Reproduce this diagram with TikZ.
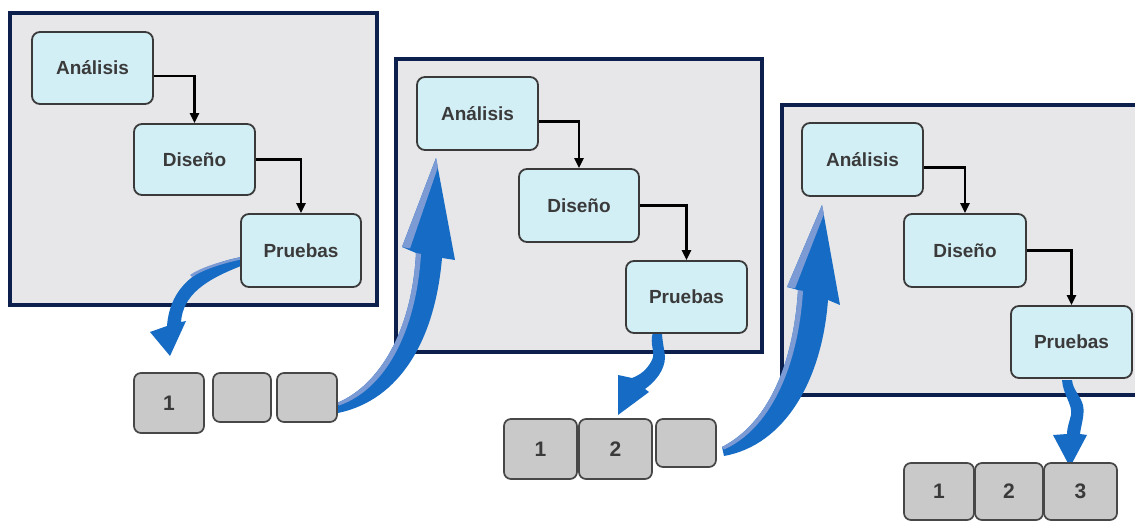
\documentclass[tikz,border=0pt]{standalone}
\usepackage{fontspec}
\setmainfont{Liberation Sans}
\usetikzlibrary{arrows.meta}

\definecolor{framefill}{HTML}{E7E7E9}
\definecolor{frameline}{HTML}{0C1F4D}
\definecolor{boxfill}{HTML}{D3EFF6}
\definecolor{boxline}{HTML}{3A3A3A}
\definecolor{boxtext}{HTML}{3A3A3A}
\definecolor{tilefill}{HTML}{C9C9C9}
\definecolor{tileline}{HTML}{474747}
\definecolor{ablue}{HTML}{166CC4}
\definecolor{ahi}{HTML}{7C9AD4}

\tikzset{
  panel/.style={fill=framefill, draw=frameline, line width=3.6pt},
  phase/.style={draw=boxline, line width=1.8pt, fill=boxfill, rounded corners=8pt,
    inner sep=0pt, text=boxtext, font=\bfseries\fontsize{19}{20}\selectfont},
  tile/.style={draw=tileline, line width=1.7pt, fill=tilefill, rounded corners=7pt,
    inner sep=0pt, text=boxtext, font=\bfseries\fontsize{21}{22}\selectfont},
  conn/.style={line width=2.8pt, black, -{Triangle[length=10pt,width=9pt]}},
}

\begin{document}
\begin{tikzpicture}[x=1pt, y=-1pt]
\useasboundingbox (0,0) rectangle (1135,521);
\fill[white] (0,0) rectangle (1135,521);

% ---- iteration frames ----
\draw[panel] (10,13) rectangle (377,305);
\draw[panel] (396,59) rectangle (762,352);
\fill[framefill] (782,105) rectangle (1135,395);
\draw[frameline, line width=3.6pt] (1136,105) -- (782,105) -- (782,395) -- (1136,395);

% ---- blue feedback arrows ----
% Pruebas -> first increment
\fill[ablue] (241,257) .. controls (200,265) and (170,285) .. (167,326)
  -- (150,332) -- (170,356) -- (186,321) -- (181,322)
  .. controls (183,295) and (205,280) .. (241,266) -- cycle;
\fill[ahi] (241,257) .. controls (218,262) and (200,268) .. (190,275)
  -- (192,277) .. controls (203,270) and (220,264) .. (241,259.5) -- cycle;

% increments -> second iteration
\fill[ablue] (337,403) .. controls (380,385) and (412,330) .. (416,253)
  -- (402,247) -- (436,158) -- (455,260) -- (442,258)
  .. controls (435,340) and (400,400) .. (338,413) -- cycle;
\fill[ahi] (337,403) .. controls (380,385) and (412,330) .. (416,253)
  -- (421,254) .. controls (416,334) and (384,390) .. (339,405.5) -- cycle;
\fill[ahi] (402,247) -- (436,158) -- (438,167) -- (410,248.5) -- cycle;

% Pruebas -> second increment
\fill[ablue] (653,332) .. controls (649,345) and (656,352) .. (652,360)
  .. controls (647,370) and (640,375) .. (632,378)
  -- (618,375) -- (618,415) -- (649,392) -- (645,389)
  .. controls (655,382) and (665,370) .. (665,357)
  .. controls (664,347) and (662,340) .. (662,332) -- cycle;

% increments -> third iteration
\fill[ablue] (722,447) .. controls (765,425) and (793,370) .. (798,290)
  -- (787,287) -- (822,205) -- (840,305) -- (828,300)
  .. controls (822,380) and (785,445) .. (724,456) -- cycle;
\fill[ahi] (722,447) .. controls (765,425) and (793,370) .. (798,290)
  -- (803,291) .. controls (798,371) and (768,430) .. (724,449.5) -- cycle;
\fill[ahi] (787,287) -- (822,205) -- (824,214) -- (795,288.5) -- cycle;

% Pruebas -> third increment
\fill[ablue] (1062,380) .. controls (1063,395) and (1073,405) .. (1071,415)
  .. controls (1069,423) and (1067,428) .. (1067,434)
  -- (1053,435) -- (1070,467) -- (1087,435) -- (1080,434)
  .. controls (1081,425) and (1085,415) .. (1083,405)
  .. controls (1080,395) and (1073,390) .. (1072,380) -- cycle;

% ---- phases, iteration 1 ----
\node[phase, minimum width=121pt, minimum height=72pt] (A1) at (92.5,68) {Análisis};
\node[phase, minimum width=121pt, minimum height=71pt] (D1) at (194.5,159.5) {Diseño};
\node[phase, minimum width=120pt, minimum height=73pt] (P1) at (301,250.5) {Pruebas};
\draw[conn] ([yshift=-8pt]A1.east) -| (D1.north);
\draw[conn] (D1.east) -| (P1.north);

% ---- phases, iteration 2 ----
\node[phase, minimum width=121pt, minimum height=73pt] (A2) at (477.5,113.5) {Análisis};
\node[phase, minimum width=120pt, minimum height=73pt] (D2) at (579,205.5) {Diseño};
\node[phase, minimum width=121pt, minimum height=72pt] (P2) at (686.5,297) {Pruebas};
\draw[conn] ([yshift=-8pt]A2.east) -| (D2.north);
\draw[conn] (D2.east) -| (P2.north);

% ---- phases, iteration 3 ----
\node[phase, minimum width=121pt, minimum height=73pt] (A3) at (862.5,159.5) {Análisis};
\node[phase, minimum width=122pt, minimum height=73pt] (D3) at (965,250.5) {Diseño};
\node[phase, minimum width=121pt, minimum height=72pt] (P3) at (1071.5,342) {Pruebas};
\draw[conn] ([yshift=-8pt]A3.east) -| (D3.north);
\draw[conn] (D3.east) -| (P3.north);

% ---- delivered increments ----
\node[tile, minimum width=70pt, minimum height=60pt] (T11) at (169,403) {1};
\node[tile, minimum width=58pt, minimum height=49pt] (T12) at (242,397.5) {};
\node[tile, minimum width=60pt, minimum height=49pt] (T13) at (307,397.5) {};

\node[tile, minimum width=73pt, minimum height=60pt] (T21) at (540.5,449) {1};
\node[tile, minimum width=73pt, minimum height=60pt] (T22) at (615.5,449) {2};
\node[tile, minimum width=60pt, minimum height=48pt] (T23) at (686,443) {};

\node[tile, minimum width=70pt, minimum height=57pt] (T31) at (939,491.5) {1};
\node[tile, minimum width=68pt, minimum height=57pt] (T32) at (1009,491.5) {2};
\node[tile, minimum width=73pt, minimum height=57pt] (T33) at (1080.5,491.5) {3};
\end{tikzpicture}
\end{document}
